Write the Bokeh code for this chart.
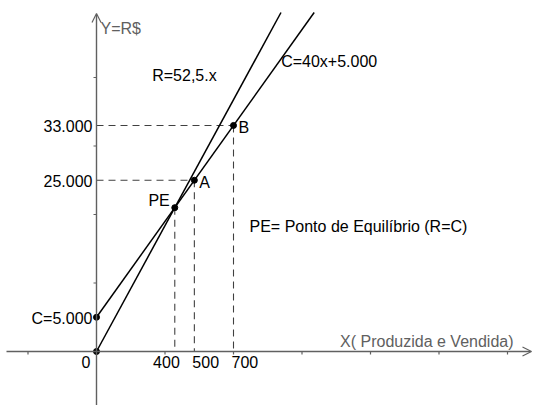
import numpy as np
from bokeh.plotting import figure
from bokeh.models import Range1d, Arrow, OpenHead
from bokeh.embed import file_html
from bokeh.resources import INLINE
from bokeh.core.properties import value

# ---------------- data ----------------
price = 52.5          # R = 52,5.x
unit_cost = 40        # C = 40x + 5.000
fixed_cost = 5000
point_names = ["PE", "A", "B"]
point_x = [400, 500, 700]
point_y = [21000, 25000, 33000]
x_tick_values = [0, 400, 500, 700]
x_tick_labels = ["0", "400", "500", "700"]
y_tick_values = [33000, 25000, 5000]
y_tick_labels = ["33.000", "25.000", "C=5.000"]
minor_x = [-350, 350, 700, 1050, 1400, 1750, 2100]
minor_y = [10000, 20000, 30000, 40000]

# ---------------- layout ----------------
W, H = 533, 405
OX, OY = 96, 351                  # pixel position of the origin
SX, SY = 68.5 / 350, 68.5 / 10000  # pixels per data unit


def px(xp):
    return (xp - OX) / SX


def py(yp):
    return (OY - yp) / SY


FONT = value("Liberation Sans")
FS = "16px"
AX = "#606060"
DASH = "#404040"

p = figure(width=W, height=H, x_range=Range1d(px(0), px(W)), y_range=Range1d(py(H), py(0)),
           x_axis_type=None, y_axis_type=None, toolbar_location=None,
           output_backend="svg", min_border=0, outline_line_color=None,
           background_fill_color="white", border_fill_color="white")
p.grid.visible = False

# axes with arrows
p.add_layout(Arrow(end=OpenHead(size=9, line_color=AX, line_width=1.2),
                   x_start=px(6), y_start=0, x_end=px(531), y_end=0,
                   line_color=AX, line_width=1.4))
p.add_layout(Arrow(end=OpenHead(size=9, line_color=AX, line_width=1.2),
                   x_start=0, y_start=py(H), x_end=0, y_end=py(13),
                   line_color=AX, line_width=1.4))

# small unlabeled ticks
p.segment(x0=minor_x, y0=[0] * len(minor_x), x1=minor_x, y1=[py(OY + 3)] * len(minor_x),
          line_color=AX, line_width=1.2)
p.segment(x0=[0] * len(minor_y), y0=minor_y, x1=[px(OX - 3)] * len(minor_y), y1=minor_y,
          line_color=AX, line_width=1.2)

# dashed guides
p.segment(x0=[0, 0], y0=point_y[1:], x1=point_x[1:], y1=point_y[1:],
          line_color=DASH, line_width=1.1, line_dash="7 5")
p.segment(x0=point_x, y0=point_y, x1=point_x, y1=[0] * len(point_x),
          line_color=DASH, line_width=1.1, line_dash="7 5")

# revenue and cost lines
y_top = py(12)
xr = np.array([0, y_top / price])
xc = np.array([0, (y_top - fixed_cost) / unit_cost])
p.line(xr, price * xr, line_color="black", line_width=1.5)
p.line(xc, unit_cost * xc + fixed_cost, line_color="black", line_width=1.5)

# points
p.scatter(point_x + [0, 0], point_y + [0, fixed_cost], size=6, color="black")

# point labels
p.text(x=[point_x[0]], y=[point_y[0]], text=[point_names[0]], x_offset=-5, y_offset=1,
       text_align="right", text_baseline="bottom", text_font=FONT, text_font_size=FS, text_color="black")
p.text(x=point_x[1:], y=point_y[1:], text=point_names[1:], x_offset=5, y_offset=2,
       text_align="left", text_baseline="middle", text_font=FONT, text_font_size=FS, text_color="black")

# x labels
p.text(x=x_tick_values[:2], y=[0, 0], text=x_tick_labels[:2], x_offset=[-6, 5], y_offset=4,
       text_align="right", text_baseline="top", text_font=FONT, text_font_size=FS, text_color="black")
p.text(x=x_tick_values[2:], y=[0, 0], text=x_tick_labels[2:], x_offset=-2, y_offset=4,
       text_align="left", text_baseline="top", text_font=FONT, text_font_size=FS, text_color="black")

# y labels
p.text(x=[0] * len(y_tick_values), y=y_tick_values, text=y_tick_labels, x_offset=-4, y_offset=1,
       text_align="right", text_baseline="middle", text_font=FONT, text_font_size=FS, text_color="black")

# equation labels
yl_r = py(75)
p.text(x=[yl_r / price], y=[yl_r], text=["R=52,5.x"], x_offset=-30,
       text_align="right", text_baseline="middle", text_font=FONT, text_font_size=FS, text_color="black")
yl_c = py(61)
p.text(x=[(yl_c - fixed_cost) / unit_cost], y=[yl_c], text=["C=40x+5.000"], x_offset=2,
       text_align="left", text_baseline="middle", text_font=FONT, text_font_size=FS, text_color="black")

# other texts
p.text(x=[px(249)], y=[py(226)], text=["PE= Ponto de Equilíbrio (R=C)"],
       text_align="left", text_baseline="middle", text_font=FONT, text_font_size=FS, text_color="black")
p.text(x=[px(100)], y=[py(28)], text=["Y=R$"],
       text_align="left", text_baseline="middle", text_font=FONT, text_font_size=FS, text_color=AX)
p.text(x=[px(513)], y=[py(349)], text=["X( Produzida e Vendida)"],
       text_align="right", text_baseline="bottom", text_font=FONT, text_font_size=FS, text_color=AX)

open("out.html", "w").write(file_html(p, INLINE))
